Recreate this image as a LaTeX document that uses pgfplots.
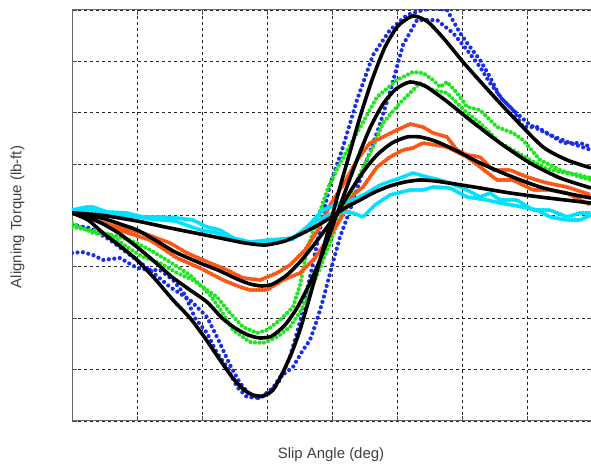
\documentclass[border=0pt]{standalone}
\usepackage{pgfplots}
\pgfplotsset{compat=1.18}
\usepackage{fontspec}
\setmainfont{Liberation Sans}
\definecolor{dblue}{RGB}{25,45,235}
\definecolor{dgreen}{RGB}{30,230,30}
\definecolor{dorange}{RGB}{255,85,20}
\definecolor{dcyan}{RGB}{0,225,255}
\pgfplotsset{
  meas/.style={line width=4.2bp, line cap=round, line join=round, dash pattern=on 0pt off #1, mark=none},
  fit/.style={line width=3.6bp, black, mark=none, smooth, tension=0.4}
}
\begin{document}
\begin{tikzpicture}[x=1bp,y=1bp]
\begin{axis}[
  at={(72bp,43bp)}, anchor=south west,
  scale only axis, width=520bp, height=411bp,
  xmin=72, xmax=592, ymin=-421, ymax=-10,
  xtick={72,137,...,592},
  ytick={-421,-369.6,-318.3,-266.9,-215.5,-164.1,-112.8,-61.4,-10},
  xticklabels={}, yticklabels={},
  grid=major,
  major grid style={draw=black!85, line width=0.8bp, dash pattern=on 3bp off 3bp},
  axis line style={draw=black!60, line width=1bp},
  tick style={draw=black!70, line width=0.8bp},
  tick align=inside, major tick length=5bp,
  clip=true,
]
% ---- blue (measured)
\addplot[meas=5.5bp, dblue] coordinates {(72,-225) (90,-228) (110,-240) (130,-255) (150,-270) (170,-287) (190,-300) (207,-317) (217,-337) (230,-365) (240,-383) (250,-395) (258,-398) (268,-394) (280,-380) (290,-357) (300,-322) (312,-268) (323,-215) (330,-185) (343,-147) (357,-100) (373,-55) (390,-30) (407,-15) (423,-10) (433,-8) (447,-10) (460,-33) (467,-43) (480,-60) (490,-77) (500,-97) (513,-110) (523,-127) (537,-127) (547,-133) (563,-143) (580,-143) (591,-147)};
\addplot[meas=5.5bp, dblue] coordinates {(72,-253) (82,-252) (93,-255) (103,-260) (120,-258) (137,-268) (150,-270) (160,-270) (173,-280) (185,-295) (195,-318) (207,-333) (217,-353) (227,-367) (237,-387) (247,-397) (260,-398) (273,-388) (280,-377) (293,-367) (303,-350) (310,-340) (317,-320) (323,-300) (333,-262) (340,-237) (350,-210) (365,-165) (378,-130) (390,-92) (403,-45) (417,-20) (437,-20) (443,-25) (453,-33) (467,-50) (480,-67) (490,-83) (503,-100) (513,-110) (530,-125) (550,-135) (570,-143) (591,-150)};
% ---- green (measured)
\addplot[meas=4.5bp, dgreen] coordinates {(72,-223) (93,-233) (110,-235) (127,-247) (143,-257) (160,-263) (177,-273) (193,-280) (207,-290) (217,-297) (230,-313) (243,-327) (257,-333) (267,-330) (280,-320) (293,-307) (300,-285) (307,-250) (317,-220) (328,-188) (340,-163) (357,-133) (377,-97) (397,-80) (413,-72) (423,-73) (433,-80) (440,-87) (447,-82) (457,-93) (467,-107) (480,-110) (497,-127) (513,-133) (523,-140) (540,-160) (560,-170) (580,-177) (591,-180)};
\addplot[meas=4.5bp, dgreen] coordinates {(72,-227) (100,-232) (130,-240) (150,-250) (170,-262) (190,-275) (210,-295) (222,-312) (233,-330) (250,-342) (263,-343) (277,-337) (290,-327) (300,-312) (310,-292) (320,-268) (333,-235) (345,-205) (357,-180) (373,-147) (383,-123) (400,-103) (413,-90) (420,-83) (433,-90) (447,-93) (457,-103) (467,-113) (480,-123) (490,-133) (500,-143) (513,-150) (530,-160) (545,-168) (560,-172) (575,-174) (591,-178)};
% ---- orange (measured)
\addplot[meas=3bp, dorange] coordinates {(72,-212) (95,-220) (117,-227) (143,-233) (170,-243) (187,-253) (210,-263) (227,-270) (243,-278) (260,-280) (277,-273) (290,-265) (305,-250) (318,-230) (330,-205) (343,-185) (357,-160) (370,-143) (383,-137) (397,-130) (410,-124) (423,-127) (433,-133) (447,-137) (457,-150) (467,-155) (480,-157) (493,-170) (510,-170) (527,-177) (547,-183) (567,-187) (591,-195)};
\addplot[meas=3bp, dorange] coordinates {(72,-213) (100,-222) (125,-232) (150,-240) (177,-258) (200,-268) (223,-280) (240,-287) (250,-290) (267,-290) (283,-280) (300,-273) (315,-258) (327,-240) (340,-220) (353,-195) (363,-187) (377,-167) (390,-157) (403,-150) (413,-148) (423,-143) (435,-145) (447,-147) (467,-157) (480,-167) (497,-180) (513,-180) (533,-190) (550,-190) (567,-193) (580,-200) (591,-205)};
% ---- cyan (measured)
\addplot[meas=3bp, dcyan] coordinates {(72,-210) (87,-207) (93,-207) (107,-212) (127,-213) (143,-217) (160,-217) (177,-218) (193,-220) (207,-227) (220,-230) (233,-238) (250,-242) (270,-240) (293,-238) (307,-227) (323,-210) (340,-203) (353,-200) (367,-193) (380,-185) (400,-178) (413,-173) (427,-177) (440,-180) (450,-183) (467,-190) (480,-197) (490,-193) (500,-200) (517,-200) (533,-210) (550,-210) (567,-217) (580,-213) (591,-213)};
\addplot[meas=3bp, dcyan] coordinates {(72,-212) (90,-210) (110,-213) (130,-216) (150,-219) (175,-221) (200,-230) (217,-233) (233,-238) (250,-243) (277,-241) (293,-239) (313,-223) (333,-213) (343,-212) (353,-213) (363,-217) (375,-205) (390,-195) (410,-190) (423,-190) (433,-187) (450,-188) (467,-197) (487,-200) (500,-203) (523,-207) (537,-210) (550,-217) (567,-220) (580,-220) (591,-215)};
% ---- fitted curves (black)
\addplot[fit] coordinates {(72,-213) (88,-220) (103,-233) (120,-246) (137,-260) (155,-279) (173,-300) (190,-318) (205,-338) (220,-360) (232,-377) (243,-389) (253,-395) (263,-396) (273,-390) (283,-372) (292,-352) (300,-330) (310,-296) (320,-260) (330,-224) (340,-187) (350,-152) (360,-117) (372,-80) (385,-47) (398,-26) (413,-16) (428,-22) (445,-40) (463,-62) (488,-90) (513,-117) (543,-147) (567,-160) (591,-168)};
\addplot[fit] coordinates {(72,-213) (88,-217) (105,-225) (120,-234) (137,-247) (155,-262) (172,-277) (190,-290) (207,-302) (222,-318) (235,-328) (248,-335) (260,-338) (272,-336) (285,-325) (297,-308) (310,-283) (322,-255) (333,-225) (345,-192) (357,-160) (370,-128) (383,-104) (396,-89) (410,-82) (425,-86) (445,-100) (470,-120) (500,-143) (530,-163) (560,-178) (591,-188)};
\addplot[fit] coordinates {(72,-213) (88,-215) (105,-219) (120,-224) (137,-230) (155,-240) (175,-252) (200,-263) (220,-271) (237,-279) (250,-284) (262,-286) (273,-284) (287,-275) (300,-262) (313,-246) (325,-230) (337,-213) (350,-192) (363,-172) (377,-155) (392,-143) (407,-137) (420,-137) (435,-141) (455,-150) (480,-163) (510,-176) (540,-187) (565,-193) (591,-198)};
\addplot[fit] coordinates {(72,-213) (100,-215) (137,-221) (165,-227) (195,-233) (220,-238) (245,-243) (265,-245) (285,-241) (305,-232) (320,-224) (333,-216) (345,-208) (360,-200) (375,-192) (390,-186) (405,-182) (420,-180) (435,-181) (455,-184) (480,-188) (510,-193) (540,-197) (565,-200) (591,-203)};
\end{axis}
\node[anchor=base, text=black!75, font=\fontsize{15}{18}\selectfont] at (331,5) {Slip Angle (deg)};
\node[rotate=90, text=black!75, font=\fontsize{15}{18}\selectfont] at (17.5,247) {Aligning Torque (lb-ft)};
\pgfresetboundingbox
\path (0,0) rectangle (591,464);
\end{tikzpicture}
\end{document}
